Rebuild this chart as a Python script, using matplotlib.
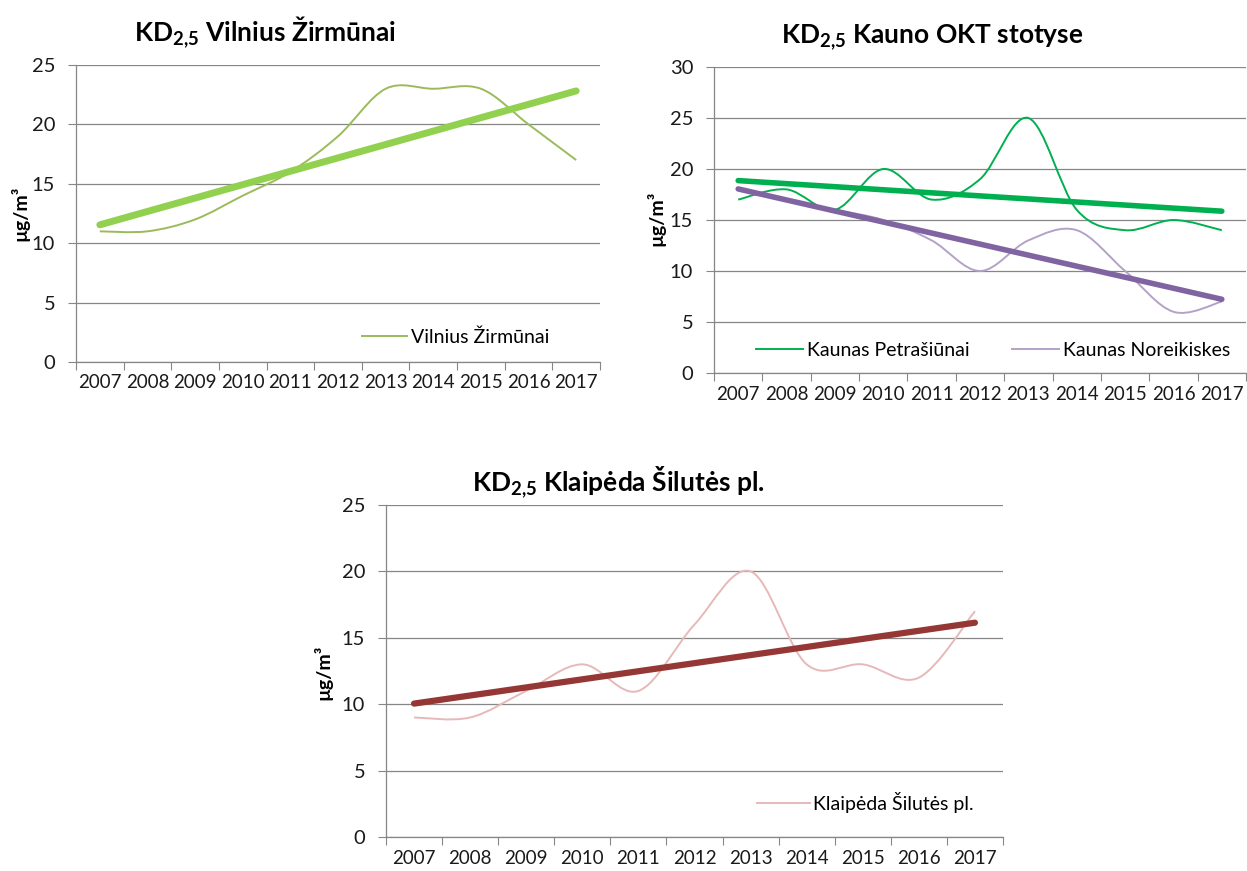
import numpy as np
import matplotlib
matplotlib.use("Agg")
import matplotlib.pyplot as plt
from matplotlib.path import Path
from matplotlib.patches import PathPatch
from matplotlib.lines import Line2D

plt.rcParams['font.family'] = ['Lato', 'DejaVu Sans']
plt.rcParams['mathtext.fontset'] = 'custom'
plt.rcParams['mathtext.rm'] = 'Lato'
plt.rcParams['mathtext.bf'] = 'Lato:bold'

# data (ug/m3)
years = ['2007', '2008', '2009', '2010', '2011', '2012', '2013', '2014', '2015', '2016', '2017']
vilnius = [11, 11, 12, 14, 16, 19, 23, 23, 23, 20, 17]
kaunas_petrasiunai = [17, 18, 16, 20, 17, 19, 25, 16, 14, 15, 14]
kaunas_noreikiskes = [18, 17, 16, 15, 13, 10, 13, 14, 10, 6, 7]
klaipeda = [9, 9, 11, 13, 11, 16, 20, 13, 13, 12, 17]

W, H = 1247, 871
GRID = '#868686'
KD = r'$\mathbf{KD_{2{,}5}}$ '


def smooth_path(x, y):
    # Excel style smoothed line (Catmull-Rom as cubic Bezier)
    pts = np.column_stack([x, y]).astype(float)
    n = len(pts)
    verts = [pts[0]]
    codes = [Path.MOVETO]
    for i in range(n - 1):
        p0 = pts[i - 1] if i > 0 else pts[i]
        p1 = pts[i]
        p2 = pts[i + 1]
        p3 = pts[i + 2] if i + 2 < n else pts[i + 1]
        verts += [p1 + (p2 - p0) / 6, p2 - (p3 - p1) / 6, p2]
        codes += [Path.CURVE4] * 3
    return Path(verts, codes)


def make_axes(fig, left, right, top, bottom, ymax, ystep):
    ax = fig.add_axes([left / W, 1 - bottom / H, (right - left) / W, (bottom - top) / H])
    ax.set_xlim(-0.5, len(years) - 0.5)
    ax.set_ylim(0, ymax)
    ax.set_yticks(np.arange(0, ymax + 1, ystep))
    ax.set_xticks(np.arange(-0.5, len(years), 1.0))
    ax.set_xticklabels([])
    ax.set_xticks(np.arange(len(years)), minor=True)
    ax.set_xticklabels(years, minor=True, fontsize=13.5, color='#1a1a1a')
    ax.tick_params(axis='x', which='major', length=6, color=GRID, direction='out')
    ax.tick_params(axis='x', which='minor', length=0, pad=9)
    ax.tick_params(axis='y', length=6, color=GRID, pad=9, labelsize=14.5, labelcolor='#1a1a1a')
    ax.grid(axis='y', color=GRID, lw=0.9)
    ax.set_axisbelow(True)
    for s in ['top', 'right']:
        ax.spines[s].set_visible(False)
    for s in ['left', 'bottom']:
        ax.spines[s].set_color(GRID)
        ax.spines[s].set_linewidth(0.9)
    return ax


def add_series(ax, vals, color, trend_color, lw_trend):
    x = np.arange(len(vals))
    ax.add_patch(PathPatch(smooth_path(x, vals), fill=False, edgecolor=color, lw=1.4, zorder=3))
    k, b = np.polyfit(x, vals, 1)
    ax.plot([x[0], x[-1]], [b, k * x[-1] + b], color=trend_color, lw=lw_trend,
            solid_capstyle='round', zorder=4)
    return Line2D([], [], color=color, lw=1.4)


fig = plt.figure(figsize=(W / 100, H / 100), dpi=100)

# Vilnius
ax1 = make_axes(fig, 76, 600, 65, 362, 25, 5)
h1 = add_series(ax1, vilnius, '#9BBB59', '#92D050', 5.0)
ax1.legend([h1], ['Vilnius Žirmūnai'], loc='center left', bbox_to_anchor=((362 - 76) / 524, (362 - 337) / 297),
           frameon=False, fontsize=14, handlelength=2.3, handletextpad=0.2, borderpad=0, borderaxespad=0)
fig.text(265 / W, 1 - 32 / H, KD + 'Vilnius Žirmūnai', ha='center', va='center',
         fontsize=19, fontweight='bold')
fig.text(20 / W, 1 - 213 / H, 'µg/m³', rotation=90, ha='center', va='center', fontsize=14, fontweight='bold')

# Kaunas
ax2 = make_axes(fig, 714, 1246, 67, 373, 30, 5)
h2 = add_series(ax2, kaunas_petrasiunai, '#00B050', '#00B050', 4.0)
h3 = add_series(ax2, kaunas_noreikiskes, '#B3A2C7', '#8064A2', 4.0)
ax2.legend([h2, h3], ['Kaunas Petrašiūnai', 'Kaunas Noreikiskes'], loc='center left', ncol=2,
           bbox_to_anchor=((756 - 714) / 532, (373 - 350) / 306), frameon=False, fontsize=14,
           handlelength=2.4, handletextpad=0.2, columnspacing=2.2, borderpad=0, borderaxespad=0)
fig.text(932 / W, 1 - 37 / H, KD + 'Kauno OKT stotyse', ha='center', va='center',
         fontsize=19, fontweight='bold')
fig.text(656 / W, 1 - 218 / H, 'µg/m³', rotation=90, ha='center', va='center', fontsize=14, fontweight='bold')

# Klaipeda
ax3 = make_axes(fig, 386, 1003, 505, 837, 25, 5)
h4 = add_series(ax3, klaipeda, '#E6B9B8', '#953735', 4.5)
ax3.legend([h4], ['Klaipėda Šilutės pl.'], loc='center left', bbox_to_anchor=((757 - 386) / 617, (837 - 802) / 332),
           frameon=False, fontsize=14, handlelength=2.7, handletextpad=0.2, borderpad=0, borderaxespad=0)
fig.text(618 / W, 1 - 482 / H, KD + 'Klaipėda Šilutės pl.', ha='center', va='center',
         fontsize=19, fontweight='bold')
fig.text(323 / W, 1 - 672 / H, 'µg/m³', rotation=90, ha='center', va='center', fontsize=14, fontweight='bold')

fig.savefig('out.png', dpi=100)
